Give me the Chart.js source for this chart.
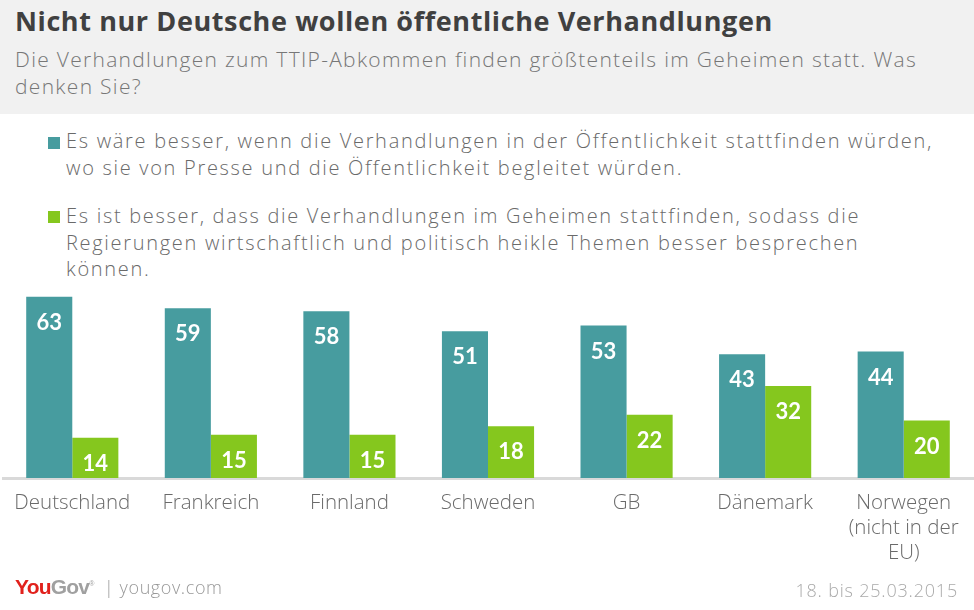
<!DOCTYPE html>
<html>
<head>
<meta charset="utf-8">
<script src="https://cdn.jsdelivr.net/npm/chart.js@4"></script>
<style>
  html, body { margin:0; padding:0; background:#fff; }
  body { width:974px; height:610px; position:relative; overflow:hidden; font-family:"Open Sans", "Lato", sans-serif; }
  #header { position:absolute; left:0; top:0; width:974px; height:114px; background:#f1f1f1; }
  #title { position:absolute; left:15px; top:2px; font-size:27px; font-weight:700; color:#404040; letter-spacing:0.6px; white-space:nowrap; }
  #subtitle { position:absolute; left:15px; top:46px; width:950px; font-size:21px; font-weight:300; color:#777; line-height:27px; letter-spacing:1.3px; white-space:nowrap; }
  .leg { position:absolute; left:66px; font-size:20px; font-weight:300; color:#6a6a6a; line-height:26.5px; width:905px; letter-spacing:1.7px; white-space:nowrap; }
  .sq { position:absolute; left:48px; width:12px; height:12px; }
  #chartwrap { position:absolute; left:0; top:280px; width:974px; height:330px; }
  #logo { position:absolute; left:15px; top:575px; font-size:21px; font-weight:700; letter-spacing:-0.8px; font-family:"Liberation Sans", Arial, sans-serif; }
  #logo .you { color:#e1211c; }
  #logo .gov { color:#a0a0a0; }
  #site { position:absolute; left:104px; top:575px; font-size:18px; color:#999; font-weight:300; letter-spacing:0.6px; }
  #date { position:absolute; right:16px; top:578px; font-size:18px; color:#aaa; font-weight:300; letter-spacing:0.8px; }
</style>
</head>
<body>
<div id="header">
  <div id="title">Nicht nur Deutsche wollen öffentliche Verhandlungen</div>
  <div id="subtitle">Die Verhandlungen zum TTIP-Abkommen finden größtenteils im Geheimen statt. Was<br>denken Sie?</div>
</div>
<div class="sq" style="top:137px;background:#479C9F"></div>
<div class="leg" style="top:128px">Es wäre besser, wenn die Verhandlungen in der Öffentlichkeit stattfinden würden,<br>wo sie von Presse und die Öffentlichkeit begleitet würden.</div>
<div class="sq" style="top:211px;background:#85C71E"></div>
<div class="leg" style="top:203px">Es ist besser, dass die Verhandlungen im Geheimen stattfinden, sodass die<br>Regierungen wirtschaftlich und politisch heikle Themen besser besprechen<br>können.</div>
<div id="chartwrap"><canvas id="c" width="974" height="330"></canvas></div>
<div id="logo"><span class="you">You</span><span class="gov">Gov</span><sup style="font-size:7px;color:#a0a0a0;font-weight:400">®</sup></div>
<div id="site">| yougov.com</div>
<div id="date">18. bis 25.03.2015</div>
<script>
const categories = ["Deutschland", "Frankreich", "Finnland", "Schweden", "GB", "Dänemark", ["Norwegen", "(nicht in der", "EU)"]];
const seriesNames = ["Öffentlich", "Geheim"];
const publicValues = [63, 59, 58, 51, 53, 43, 44];
const secretValues = [14, 15, 15, 18, 22, 32, 20];

const labelPlugin = {
  id: 'barLabels',
  afterDatasetsDraw(chart) {
    const ctx = chart.ctx;
    ctx.save();
    ctx.fillStyle = '#ffffff';
    ctx.font = '700 22px Lato, "Open Sans", sans-serif';
    ctx.textAlign = 'center';
    ctx.textBaseline = 'middle';
    chart.data.datasets.forEach((ds, i) => {
      const meta = chart.getDatasetMeta(i);
      meta.data.forEach((el, j) => {
        ctx.fillText(String(ds.data[j]), el.x, el.y + 26);
      });
    });
    ctx.restore();
  }
};

new Chart(document.getElementById('c'), {
  type: 'bar',
  data: {
    labels: categories,
    datasets: [
      { label: seriesNames[0], data: publicValues, backgroundColor: '#479C9F' },
      { label: seriesNames[1], data: secretValues, backgroundColor: '#85C71E' }
    ]
  },
  options: {
    responsive: false,
    animation: false,
    events: [],
    layout: { padding: { top: 11, left: 3, right: 1, bottom: 0 } },
    categoryPercentage: 0.665,
    barPercentage: 1,
    plugins: { legend: { display: false }, tooltip: { enabled: false } },
    scales: {
      y: { display: false, min: 0, max: 65 },
      x: {
        grid: { display: false, drawTicks: false },
        border: { display: true, color: '#d9d9d9', width: 3 },
        ticks: { color: '#6a6a6a', font: { size: 20.5, weight: 300, family: '"Open Sans", Lato, sans-serif', lineHeight: 1.22 }, padding: 13, maxRotation: 0, autoSkip: false },
        afterFit(scale) { scale.height = 132; }
      }
    }
  },
  plugins: [labelPlugin]
});
</script>
</body>
</html>
